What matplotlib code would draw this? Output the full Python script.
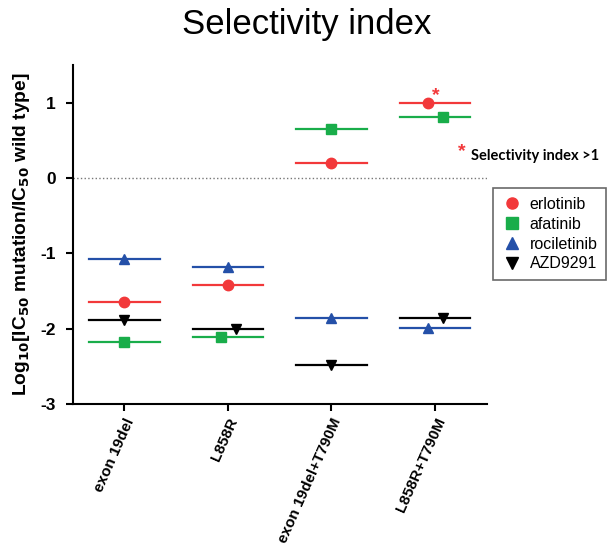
import numpy as np
import matplotlib
matplotlib.use("Agg")
import matplotlib.pyplot as plt
from matplotlib.lines import Line2D

# data (log10 selectivity)
mutations = ["exon 19del", "L858R", "exon 19del+T790M", "L858R+T790M"]
drugs = ["erlotinib", "afatinib", "rociletinib", "AZD9291"]
erlotinib = [-1.64, -1.415, 0.195, 0.995]
afatinib = [-2.18, -2.11, 0.65, 0.805]
rociletinib = [-1.075, -1.175, -1.86, -1.99]
azd9291 = [-1.89, -2.01, -2.48, -1.86]

values = [erlotinib, afatinib, rociletinib, azd9291]
colors = ["#f2383a", "#19ad4a", "#2450a8", "#000000"]
markers = ["o", "s", "^", "v"]

# little sideways nudge where markers would overlap (GraphPad style)
dodge = {(1, 1): -0.07, (1, 3): 0.075,
         (3, 0): -0.07, (3, 1): 0.08, (3, 2): -0.07, (3, 3): 0.08}

plt.rcParams['font.family'] = ['Liberation Sans', 'DejaVu Sans']
plt.rcParams['axes.unicode_minus'] = False

fig = plt.figure(figsize=(6.13, 5.45), dpi=100)
ax = fig.add_axes([0.1186, 0.2587, 0.6754, 0.622])

x = np.arange(len(mutations))
half = 0.34
for d in range(len(drugs)):
   for i in x:
      v = values[d][i]
      ax.plot([i - half, i + half], [v, v], color=colors[d], lw=1.6, zorder=2)
      ax.plot(i + dodge.get((i, d), 0), v, marker=markers[d], color=colors[d],
              markersize=7.5, ls='none', zorder=3)

ax.axhline(0, color='#777777', ls=':', lw=1, zorder=1)

# asterisk on erlotinib, L858R+T790M
ax.text(3.005, erlotinib[3] + 0.1, "*", color='#f2383a', fontsize=14,
        fontweight='bold', ha='center', va='center')

ax.set_xlim(-0.5, 3.5)
ax.set_ylim(-3, 1.5)
ax.set_yticks([-3, -2, -1, 0, 1])
ax.set_xticks(x)
ax.set_xticklabels(mutations, rotation=66, ha='right', rotation_mode='anchor',
                   fontsize=11, fontweight='bold')
for lab in ax.get_yticklabels():
   lab.set_fontweight('bold')
   lab.set_fontsize(12.5)

ax.spines['top'].set_visible(False)
ax.spines['right'].set_visible(False)
ax.spines['left'].set_linewidth(1.5)
ax.spines['bottom'].set_linewidth(1.5)
ax.tick_params(axis='both', width=1.5, length=5, direction='out')
ax.tick_params(axis='y', pad=7)

ax.set_ylabel(r"Log$_{\mathbf{10}}$[IC$_{\mathbf{50}}$ mutation/IC$_{\mathbf{50}}$ wild type]",
              fontsize=13.8, fontweight='bold', labelpad=6)

fig.text(0.5, 0.955, "Selectivity index", ha='center', va='center', fontsize=25)

# note at the right
fig.text(0.753, 0.722, "*", color='#f2383a', fontsize=14, fontweight='bold',
         ha='center', va='center')
fig.text(0.768, 0.714, "Selectivity index >1", fontsize=10.5, fontweight='bold',
         family=['Lato', 'DejaVu Sans'], ha='left', va='center')

handles = [Line2D([], [], marker=markers[d], color=colors[d], ls='none',
                  markersize=8) for d in range(len(drugs))]
leg = fig.legend(handles, drugs, loc='upper left', bbox_to_anchor=(0.804, 0.6545),
                 fontsize=11.5, frameon=True, fancybox=False, handletextpad=0.45,
                 labelspacing=0.3, borderpad=0.55, handlelength=1.3,
                 borderaxespad=0)
leg.get_frame().set_edgecolor('#444444')
leg.get_frame().set_linewidth(1.2)

plt.savefig("out.png", dpi=100)
